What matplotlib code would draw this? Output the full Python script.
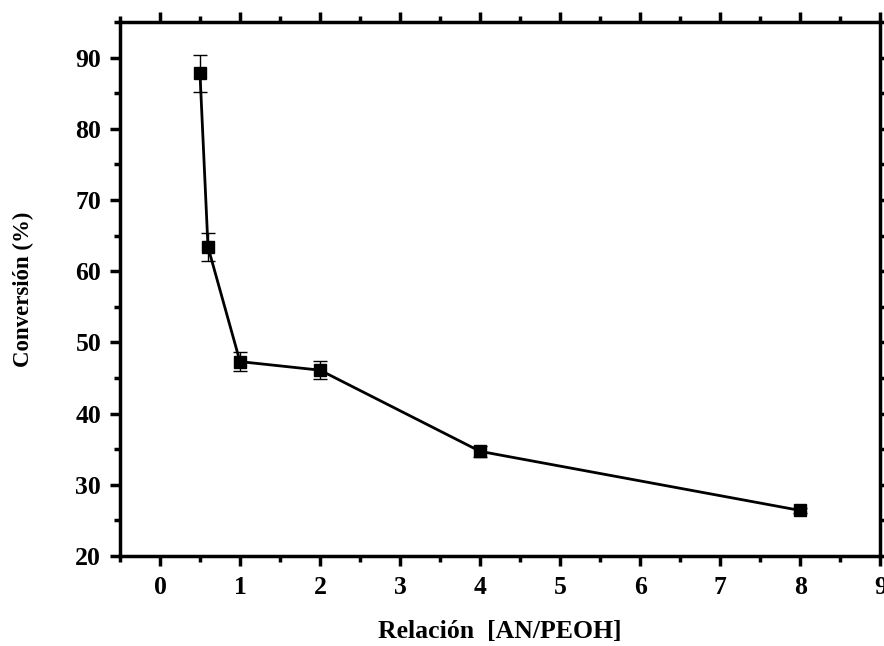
import matplotlib
matplotlib.use("Agg")
import matplotlib.pyplot as plt
from matplotlib.ticker import MultipleLocator

ratio = [0.5, 0.6, 1, 2, 4, 8]
conversion = [87.8, 63.4, 47.3, 46.1, 34.7, 26.4]
error = [2.6, 1.9, 1.3, 1.3, 0.8, 0.3]

plt.rcParams['font.family'] = ['Liberation Serif', 'DejaVu Serif']
plt.rcParams['font.weight'] = 'bold'

fig = plt.figure(figsize=(8.84, 6.46), dpi=100)
ax = fig.add_axes([0.1357, 0.1393, 0.86, 0.8267])

ax.errorbar(ratio, conversion, yerr=error, fmt='s-', color='black', ms=9,
            lw=2, elinewidth=1, capsize=5, capthick=1)

ax.set_xlim(-0.5, 9)
ax.set_ylim(20, 95)
ax.xaxis.set_major_locator(MultipleLocator(1))
ax.xaxis.set_minor_locator(MultipleLocator(0.5))
ax.yaxis.set_major_locator(MultipleLocator(10))
ax.yaxis.set_minor_locator(MultipleLocator(5))

for s in ax.spines.values():
    s.set_linewidth(2.5)
ax.tick_params(which='both', direction='out', top=True, right=True,
               labeltop=False, labelright=False, width=2.5)
ax.tick_params(which='major', length=7.5, labelsize=18.5)
ax.tick_params(axis='x', which='major', pad=7)
ax.tick_params(axis='y', which='major', pad=6)
ax.tick_params(which='minor', length=4.5)
for lab in ax.get_xticklabels() + ax.get_yticklabels():
    lab.set_fontweight('bold')

ax.set_xlabel('Relación  [AN/PEOH]', fontsize=18.5, fontweight='bold', labelpad=15)
ax.set_ylabel('Conversión (%)', fontsize=16.5, fontweight='bold', labelpad=30)

fig.savefig('out.png', dpi=100)
